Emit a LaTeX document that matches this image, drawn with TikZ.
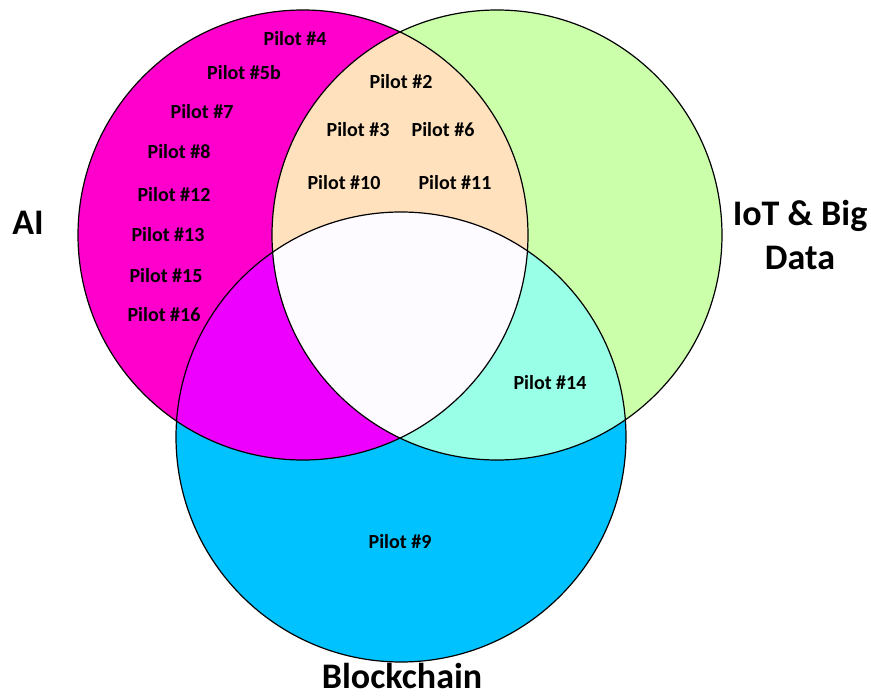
\documentclass[tikz,border=0pt]{standalone}
\usepackage{fontspec}
\setmainfont{Carlito}
\usepackage{xcolor}
\usepackage{tikz}
\usetikzlibrary{positioning}

\definecolor{aionly}{HTML}{FF00CC}
\definecolor{iotonly}{HTML}{CCFFAA}
\definecolor{bconly}{HTML}{00C2FF}
\definecolor{aiiot}{HTML}{FFE1BE}
\definecolor{aibc}{HTML}{EE00FF}
\definecolor{iotbc}{HTML}{99FFE6}
\definecolor{allthree}{HTML}{FDFBFF}

\begin{document}
\begin{tikzpicture}[x=1pt,y=-1pt,
    pilot/.style={font=\bfseries\fontsize{20}{24}\selectfont,anchor=base},
    setname/.style={font=\bfseries\fontsize{36}{44}\selectfont,align=center,inner sep=0pt},
    rim/.style={draw=black,line width=1.2pt}]
  \useasboundingbox (0,0) rectangle (871,698);

  \coordinate (ai)  at (303,235);
  \coordinate (iot) at (497,235);
  \coordinate (bc)  at (401,437);
  \def\rad{225}

  % single sets
  \fill[aionly]  (ai)  circle (\rad);
  \fill[iotonly] (iot) circle (\rad);
  \fill[bconly]  (bc)  circle (\rad);

  % overlaps
  \begin{scope}
    \clip (iot) circle (\rad);
    \fill[iotbc] (bc) circle (\rad);
  \end{scope}
  \begin{scope}
    \clip (ai) circle (\rad);
    \fill[aiiot] (iot) circle (\rad);
    \fill[aibc]  (bc)  circle (\rad);
    \clip (iot) circle (\rad);
    \fill[allthree] (bc) circle (\rad);
  \end{scope}

  \draw[rim] (ai) circle (\rad);
  \draw[rim] (iot) circle (\rad);
  \draw[rim] (bc) circle (\rad);

  % set names
  \node[setname,anchor=base] (ainame) at (28,235)  {AI};
  \node[setname] (iotname) at (800,235) {IoT \& Big\\Data};
  \node[setname,anchor=base] (bcname) at (402,688) {Blockchain};

  % AI only
  \node[pilot] (p4)  at (295,46)  {Pilot \#4};
  \node[pilot] (p5b) at (244,80)  {Pilot \#5b};
  \node[pilot] (p7)  at (202,119) {Pilot \#7};
  \node[pilot] (p8)  at (179,159) {Pilot \#8};
  \node[pilot] (p12) at (174,202) {Pilot \#12};
  \node[pilot] (p13) at (168,242) {Pilot \#13};
  \node[pilot] (p15) at (166,282) {Pilot \#15};
  \node[pilot] (p16) at (164,321) {Pilot \#16};

  % AI and IoT
  \node[pilot] (p2)  at (401,89)  {Pilot \#2};
  \node[pilot] (p3)  at (358,137) {Pilot \#3};
  \node[pilot] (p6)  at (443,137) {Pilot \#6};
  \node[pilot] (p10) at (344,190) {Pilot \#10};
  \node[pilot] (p11) at (455,190) {Pilot \#11};

  % IoT and Blockchain, Blockchain only
  \node[pilot] (p14) at (550,389) {Pilot \#14};
  \node[pilot] (p9)  at (400,548) {Pilot \#9};
\end{tikzpicture}
\end{document}
